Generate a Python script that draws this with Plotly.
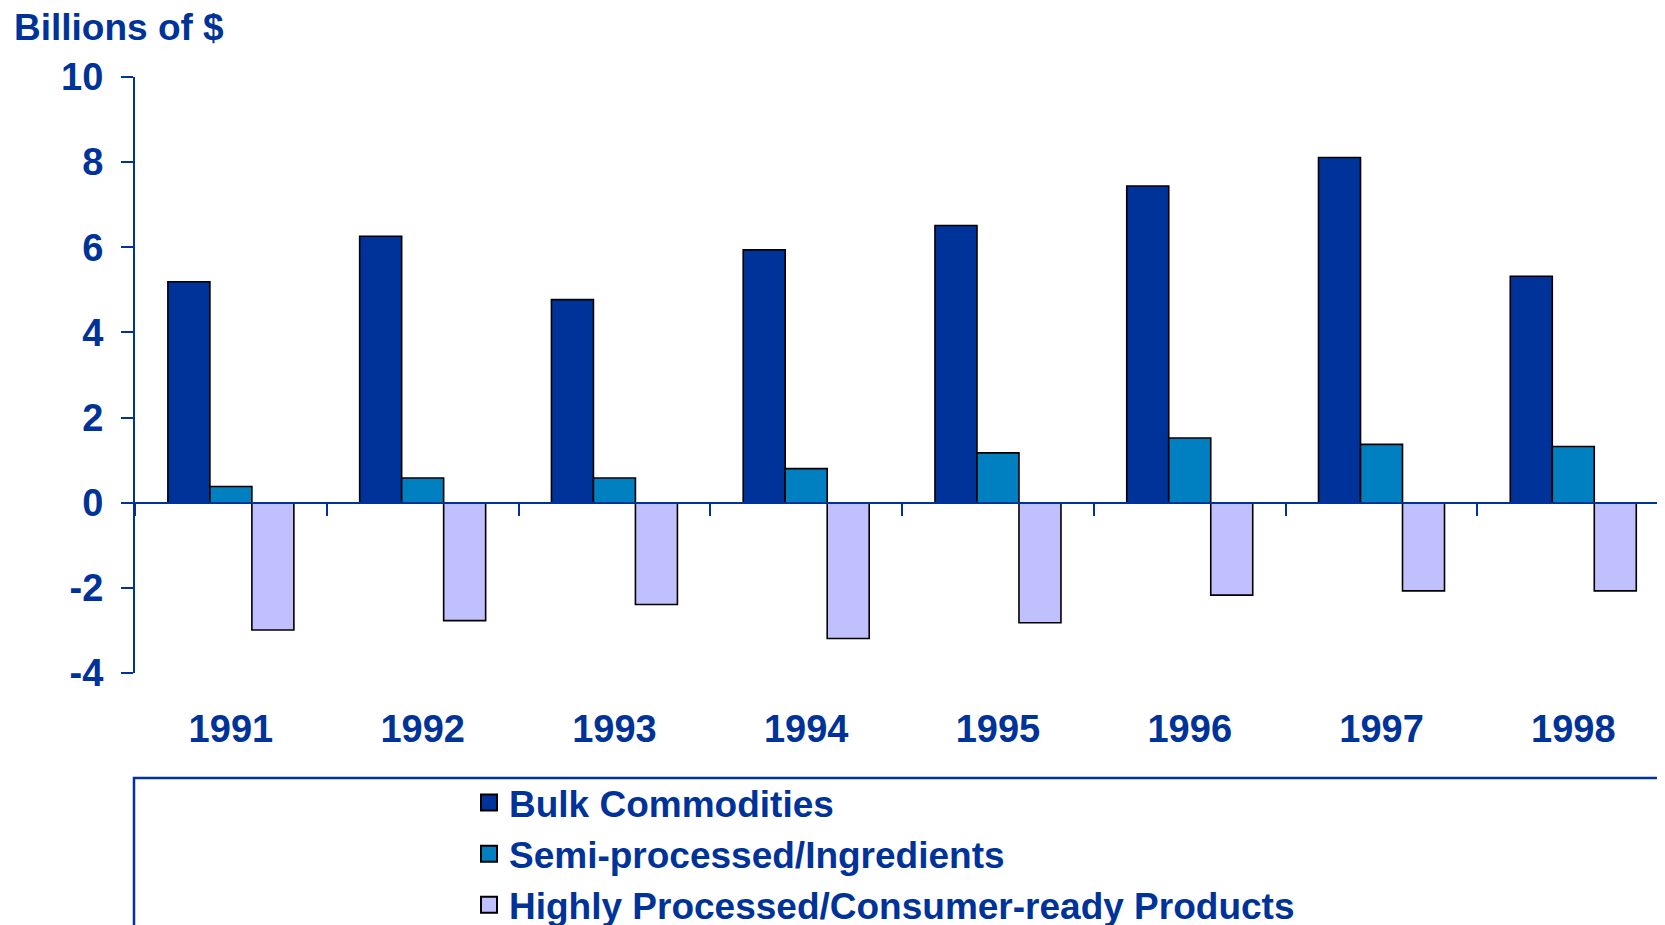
import plotly.graph_objects as go

years = ["1991", "1992", "1993", "1994", "1995", "1996", "1997", "1998"]
bulk = [5.19, 6.26, 4.77, 5.94, 6.51, 7.44, 8.11, 5.32]
semi = [0.38, 0.58, 0.58, 0.80, 1.17, 1.52, 1.37, 1.32]
highly = [-2.99, -2.77, -2.39, -3.19, -2.82, -2.17, -2.07, -2.07]
series_names = ["Bulk Commodities", "Semi-processed/Ingredients",
                "Highly Processed/Consumer-ready Products"]
series_colors = ["#003399", "#0080C0", "#C0C0FF"]
y_ticks = [-4, -2, 0, 2, 4, 6, 8, 10]
y_tick_labels = ["-4", "-2", "0", "2", "4", "6", "8", "10"]

BLUE = "#003399"
FONT = "Liberation Sans"

W, H = 1665, 925
L, R, T, B = 127, 0, 69, 260
PW = W - L - R
PH = H - T - B
ymin, ymax = -4, 10


def px_x(px):
    return (px - L) / PW


def px_y(py):
    return (H - B - py) / PH


fig = go.Figure()
for name, vals, col in zip(series_names, [bulk, semi, highly], series_colors):
    fig.add_trace(go.Bar(
        x=years, y=vals, name=name, showlegend=False,
        marker=dict(color=col, line=dict(color="black", width=1.6)),
    ))
# legend entries (square swatches)
for name, col in zip(series_names, series_colors):
    fig.add_trace(go.Scatter(
        x=[None], y=[None], mode="markers", name=name,
        marker=dict(symbol="square", size=22, color=col, line=dict(color="black", width=2)),
    ))

# invisible helper trace for the zero-line category axis
fig.add_trace(go.Scatter(x=years, y=[0] * len(years), xaxis="x2", mode="none",
                         showlegend=False, hoverinfo="skip"))

xrange = [-0.5, 7.52]
fig.update_layout(
    width=W, height=H,
    margin=dict(l=L, r=R, t=T, b=B, autoexpand=False),
    paper_bgcolor="white", plot_bgcolor="white",
    barmode="group", bargap=0.343, bargroupgap=0,
    font=dict(family=FONT, color=BLUE, size=37, weight="bold"),
    xaxis=dict(
        type="category", range=xrange, categoryorder="array", categoryarray=years,
        showline=False, showgrid=False, zeroline=False, ticks="",
        tickfont=dict(family=FONT, size=38, color=BLUE, weight="bold"),
        ticklabelstandoff=30,
    ),
    xaxis2=dict(
        type="category", range=xrange, categoryorder="array", categoryarray=years,
        overlaying="x", anchor="free", position=(0 - ymin) / (ymax - ymin),
        showline=True, linecolor=BLUE, linewidth=2,
        ticks="outside", tickson="boundaries", ticklen=12, tickwidth=2, tickcolor=BLUE,
        showticklabels=False, showgrid=False, zeroline=False,
    ),
    yaxis=dict(
        range=[ymin, ymax], tickvals=y_ticks, ticktext=y_tick_labels,
        showline=True, linecolor=BLUE, linewidth=2,
        ticks="outside", ticklen=12, tickwidth=2, tickcolor=BLUE,
        showgrid=False, zeroline=False,
        tickfont=dict(family=FONT, size=38, color=BLUE, weight="bold"),
        ticklabelstandoff=10,
    ),
    legend=dict(
        x=px_x(461), xanchor="left",
        y=px_y(764), yanchor="top",
        font=dict(family=FONT, size=37, color=BLUE, weight="bold"),
        bgcolor="rgba(0,0,0,0)", borderwidth=0,
        tracegroupgap=0,
    ),
    showlegend=True,
)

# legend frame (extends to the page edges like the reference)
fig.add_shape(type="rect", xref="paper", yref="paper",
              x0=px_x(126), x1=1.05,
              y0=-0.6, y1=px_y(770),
              line=dict(color=BLUE, width=2.5), fillcolor="rgba(0,0,0,0)", layer="below")

fig.add_annotation(text="Billions of $", xref="paper", yref="paper",
                   x=px_x(4), xanchor="left",
                   y=px_y(19), yanchor="middle",
                   showarrow=False,
                   font=dict(family=FONT, size=37, color=BLUE, weight="bold"))

fig.write_html("out.html")
